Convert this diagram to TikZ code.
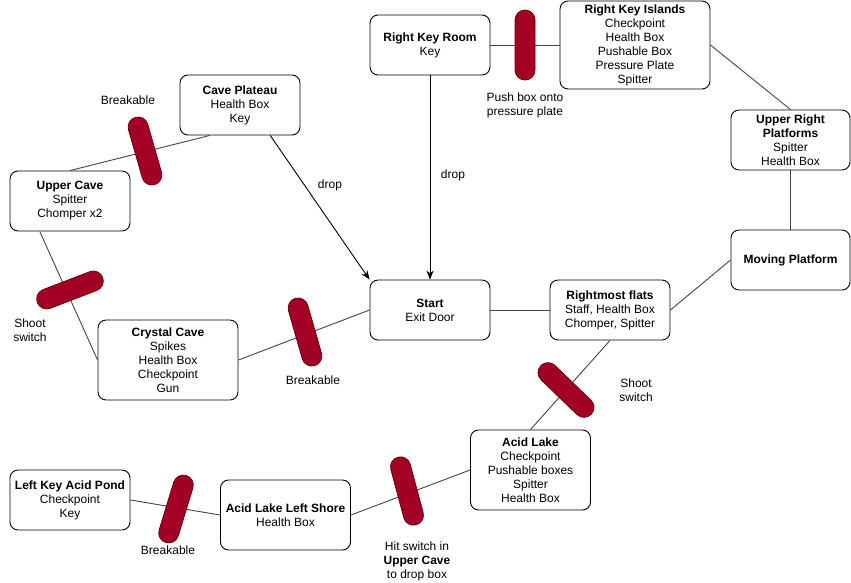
\documentclass[tikz,border=0pt]{standalone}
\usepackage{fontspec}
\setmainfont{Liberation Sans}
\usetikzlibrary{calc,arrows.meta}
\definecolor{pillfill}{HTML}{A20025}
\definecolor{pillline}{HTML}{6F0000}
\definecolor{linkgray}{HTML}{444444}
\begin{document}
\begin{tikzpicture}[x=1pt,y=-1pt,
  room/.style={draw=black, line width=0.9pt, rounded corners=8pt, fill=white,
    inner sep=0pt, align=center, font=\fontsize{12}{14}\selectfont},
  lbl/.style={inner sep=0pt, align=center, font=\fontsize{12}{14}\selectfont},
  link/.style={draw=linkgray, line width=0.9pt},
  droplink/.style={draw=black, line width=0.9pt, -{Stealth[length=9pt,width=7pt]}},
  pill/.style={draw=pillline, line width=0.8pt, fill=pillfill, minimum width=70pt,
    minimum height=20pt, rounded corners=10pt, inner sep=0pt}
]
\useasboundingbox (0,0) rectangle (851,582);

% rooms
\node[room, minimum width=120, minimum height=60] (rkr) at (430,45) {\textbf{Right Key Room}\\Key};
\node[room, minimum width=150, minimum height=88] (rki) at (635,45) {\textbf{Right Key Islands}\\Checkpoint\\Health Box\\Pushable Box\\Pressure Plate\\Spitter};
\node[room, minimum width=119, minimum height=60] (urp) at (790.5,140) {\textbf{Upper Right}\\\textbf{Platforms}\\Spitter\\Health Box};
\node[room, minimum width=119, minimum height=60] (mp) at (790.5,260) {\textbf{Moving Platform}};
\node[room, minimum width=120, minimum height=60] (cp) at (240,105) {\textbf{Cave Plateau}\\Health Box\\Key};
\node[room, minimum width=120, minimum height=60] (uc) at (70,201) {\textbf{Upper Cave}\\Spitter\\Chomper x2};
\node[room, minimum width=140, minimum height=80] (cc) at (168,360) {\textbf{Crystal Cave}\\Spikes\\Health Box\\Checkpoint\\Gun};
\node[room, minimum width=120, minimum height=60] (st) at (430,310) {\textbf{Start}\\Exit Door};
\node[room, minimum width=120, minimum height=60] (rf) at (610,310) {\textbf{Rightmost flats}\\Staff, Health Box\\Chomper, Spitter};
\node[room, minimum width=120, minimum height=80] (al) at (530.5,470) {\textbf{Acid Lake}\\Checkpoint\\Pushable boxes\\Spitter\\Health Box};
\node[room, minimum width=130, minimum height=70] (alls) at (285.5,515) {\textbf{Acid Lake Left Shore}\\Health Box};
\node[room, minimum width=120, minimum height=60] (lkap) at (70,500) {\textbf{Left Key Acid Pond}\\Checkpoint\\Key};

% anchor points on box edges
\coordinate (cpA) at ($(cp.south west)!0.25!(cp.south east)$);
\coordinate (cpB) at ($(cp.south west)!0.75!(cp.south east)$);
\coordinate (ucB) at ($(uc.south west)!0.25!(uc.south east)$);

% connectors
\draw[link] (uc.north) -- (cpA);
\draw[link] (ucB) -- (cc.west);
\draw[link] (cc.east) -- (st.west);
\draw[droplink] (cpB) -- (st.north west);
\draw[droplink] (rkr.south) -- (st.north);
\draw[link] (rkr.east) -- (rki.west);
\draw[link] (rki.east) -- (urp.north);
\draw[link] (urp.south) -- (mp.north);
\draw[link] (st.east) -- (rf.west);
\draw[link] (rf.east) -- (mp.west);
\draw[link] (rf.south) -- (al.north);
\draw[link] (al.west) -- (alls.east);
\draw[link] (lkap.east) -- (alls.west);

% gates
\node[pill, rotate=90] (g1) at (525,45) {};
\node[pill, rotate=-74] (g2) at (145,151) {};
\node[pill, rotate=21] (g3) at (70,290) {};
\node[pill, rotate=-74] (g4) at (305,332) {};
\node[pill, rotate=-44] (g5) at (566,390) {};
\node[pill, rotate=-75] (g6) at (407,491) {};
\node[pill, rotate=73] (g7) at (176,509) {};

% labels
\node[lbl] (l1) at (525,105) {Push box onto\\pressure plate};
\node[lbl] (l2) at (128,100) {Breakable};
\node[lbl] (l3) at (30,330) {Shoot\\switch};
\node[lbl] (l4) at (313,380) {Breakable};
\node[lbl] (l5) at (636,390) {Shoot\\switch};
\node[lbl] (l6) at (417,561) {Hit switch in\\\textbf{Upper Cave}\\to drop box};
\node[lbl] (l7) at (168,550) {Breakable};
\node[lbl] (l8) at (330,185) {drop};
\node[lbl] (l9) at (453,175) {drop};
\end{tikzpicture}
\end{document}
